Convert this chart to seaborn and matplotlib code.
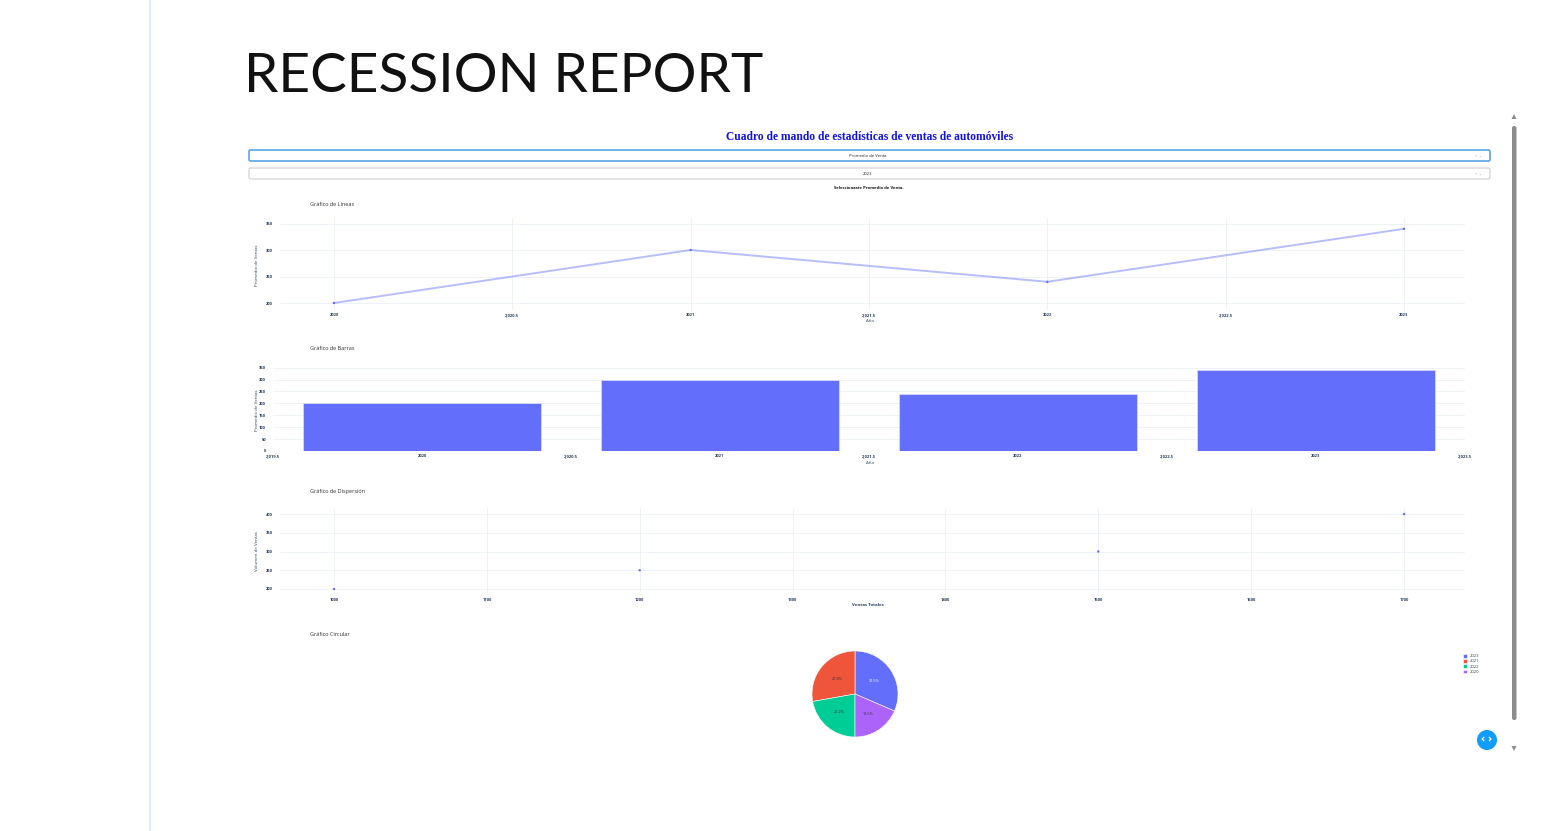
import matplotlib
matplotlib.use("Agg")
import matplotlib.pyplot as plt
from matplotlib.patches import FancyBboxPatch, Circle, Polygon
import seaborn as sns

# data
years = [2020, 2021, 2022, 2023]
avg_sales = [200, 300, 240, 340]
total_sales = [1000, 1200, 1500, 1700]
sales_volume = [200, 250, 300, 400]

line_xticks = [2020, 2020.5, 2021, 2021.5, 2022, 2022.5, 2023]
line_yticks = [200, 250, 300, 350]
bar_xticks = [2019.5, 2020, 2020.5, 2021, 2021.5, 2022, 2022.5, 2023, 2023.5]
bar_yticks = [0, 50, 100, 150, 200, 250, 300, 350]
scatter_xticks = [1000, 1100, 1200, 1300, 1400, 1500, 1600, 1700]
scatter_yticks = [200, 250, 300, 350, 400]

W, H = 1553, 831
BLUE = '#636efa'
PIE_COLORS = {2023: '#636efa', 2021: '#EF553B', 2022: '#00cc96', 2020: '#ab63fa'}
GRID = '#ebf0f8'
TICK = '#2a3f5f'

sns.set_theme(style="white")
plt.rcParams['font.family'] = ['Open Sans', 'DejaVu Sans']


def plotly_fmt(v):
    return f"{v:,.1f}" if v % 1 else f"{int(v)}"


def px_axes(fig, x0, y0, x1, y1):
    return fig.add_axes([x0 / W, 1 - y1 / H, (x1 - x0) / W, (y1 - y0) / H])


def style_axes(ax, xticks, yticks, xgrid=True):
    ax.set_xticks(xticks)
    ax.set_xticklabels([plotly_fmt(t) for t in xticks])
    ax.set_yticks(yticks)
    ax.set_yticklabels([plotly_fmt(t) for t in yticks])
    ax.tick_params(length=0, labelsize=3, colors=TICK, pad=2)
    ax.tick_params(axis='y', pad=5)
    for lab in ax.get_xticklabels() + ax.get_yticklabels():
        lab.set_fontweight('bold')
    ax.grid(True, axis='y', color=GRID, lw=0.6)
    if xgrid:
        ax.grid(True, axis='x', color=GRID, lw=0.6)
    ax.set_axisbelow(True)
    for s in ax.spines.values():
        s.set_visible(False)
    ax.set_xlabel('')
    ax.set_ylabel('')


fig = plt.figure(figsize=(W / 100, H / 100), dpi=100)

# page background: sidebar, heading, dash controls
bg = fig.add_axes([0, 0, 1, 1])
bg.set_xlim(0, W)
bg.set_ylim(H, 0)
bg.axis('off')
bg.axvline(150, color='#e4eaf3', lw=1.5)
bg.text(244, 92, 'RECESSION REPORT', fontsize=39.5, color='#111111',
        family=['Lato', 'DejaVu Sans'], va='baseline')
bg.text(870, 137, 'Cuadro de mando de estadísticas de ventas de automóviles',
        fontsize=8.3, color='#1010ee', fontweight='bold',
        family=['Liberation Serif', 'DejaVu Serif'], ha='center', va='center')

bg.add_patch(FancyBboxPatch((249, 150), 1241, 11, boxstyle='round,pad=0,rounding_size=1.5',
                            fc='white', ec='#5ba4e6', lw=1.2))
bg.add_patch(FancyBboxPatch((249, 168), 1241, 11, boxstyle='round,pad=0,rounding_size=1.5',
                            fc='white', ec='#cfcfcf', lw=0.8))
bg.text(868, 156, 'Promedio de Venta', fontsize=3, color='#222', ha='center', va='center')
bg.text(868, 174, '2023', fontsize=3, color='#222', ha='center', va='center')
for yy in (156, 174):
    bg.text(1478, yy, '×  ⌄', fontsize=2.5, color='#999', ha='center', va='center')
bg.text(869, 188, 'Seleccionaste Promedio de Venta.', fontsize=3, color='#111',
        fontweight='bold', ha='center', va='center')

# scrollbar and the dash debug button
bg.add_patch(Polygon([[1511.5, 119], [1516.5, 119], [1514, 114]], closed=True, fc='#8c8c8c', ec='none'))
bg.add_patch(FancyBboxPatch((1512, 126), 4.5, 594, boxstyle='round,pad=0,rounding_size=2',
                            fc='#8c8c8c', ec='none'))
bg.add_patch(Polygon([[1511.5, 746], [1516.5, 746], [1514, 751]], closed=True, fc='#8c8c8c', ec='none'))
bg.add_patch(Circle((1487, 740), 10, fc='#119dff', ec='none'))
bg.text(1487, 740, '‹ ›', fontsize=8, color='white', ha='center', va='center', fontweight='bold')

# panel titles and axis labels
for txt, yy in [('Gráfico de Líneas', 205), ('Gráfico de Barras', 349),
                ('Gráfico de Dispersión', 491), ('Gráfico Circular', 634)]:
    bg.text(310, yy, txt, fontsize=4, color='#333', va='center')
bg.text(870, 321, 'Año', fontsize=3.2, color=TICK, ha='center', va='center')
bg.text(870, 463, 'Año', fontsize=3.2, color=TICK, ha='center', va='center')
bg.text(868, 605, 'Ventas Totales', fontsize=3.2, color=TICK, ha='center', va='center', fontweight='bold')
bg.text(257, 265, 'Promedio de Ventas', fontsize=3.2, color=TICK, ha='center', va='center', rotation=90)
bg.text(257, 410, 'Promedio de Ventas', fontsize=3.2, color=TICK, ha='center', va='center', rotation=90)
bg.text(257, 551, 'Volumen de Ventas', fontsize=3.2, color=TICK, ha='center', va='center', rotation=90)

# line chart
ax1 = px_axes(fig, 280, 218, 1465, 310)
sns.lineplot(x=years, y=avg_sales, ax=ax1, color=BLUE, lw=1.4, alpha=0.45)
sns.scatterplot(x=years, y=avg_sales, ax=ax1, color=BLUE, s=3, edgecolor='none')
style_axes(ax1, line_xticks, line_yticks)
ax1.set_xlim(2019.8486, 2023.171)
ax1.set_ylim(186.8, 360.4)

# bar chart
ax2 = px_axes(fig, 273, 366, 1465, 451)
sns.barplot(x=years, y=avg_sales, ax=ax2, native_scale=True, color=BLUE, width=0.8,
            saturation=1, edgecolor='#d6d9fb', linewidth=0.6)
style_axes(ax2, bar_xticks, bar_yticks, xgrid=False)
ax2.set_xlim(2019.5, 2023.5)
ax2.set_ylim(0, 357)

# scatter chart
ax3 = px_axes(fig, 280, 508, 1465, 595)
sns.scatterplot(x=total_sales, y=sales_volume, ax=ax3, color=BLUE, s=3, edgecolor='none')
style_axes(ax3, scatter_xticks, scatter_yticks)
ax3.set_xlim(964.67, 1739.9)
ax3.set_ylim(184, 416)

# pie chart, largest slice first, counter clockwise like plotly
order = sorted(zip(avg_sales, years), reverse=True)
pie_vals = [v for v, _ in order]
pie_labels = [str(y) for _, y in order]
pie_cols = [PIE_COLORS[y] for _, y in order]
ax4 = px_axes(fig, 812, 651, 898, 737)
start = 90 - 360 * pie_vals[0] / sum(pie_vals)
wedges, texts, autotexts = ax4.pie(pie_vals, colors=pie_cols, startangle=start, counterclock=True,
                                   autopct='%1.1f%%', pctdistance=0.55,
                                   wedgeprops=dict(edgecolor='white', linewidth=0.4),
                                   textprops=dict(fontsize=2.8))
for i, t in enumerate(autotexts):
    t.set_color('white' if i == 0 else '#333')
ax4.set_xlim(-1, 1)
ax4.set_ylim(-1, 1)
ax4.legend(wedges, pie_labels, loc='upper left', bbox_to_anchor=(1461 / W, 1 - 652 / H),
           bbox_transform=fig.transFigure, fontsize=3, frameon=False,
           handlelength=0.9, handleheight=0.9, labelspacing=0.25, handletextpad=0.6,
           borderpad=0, labelcolor=TICK)

fig.savefig('out.png', dpi=100)
